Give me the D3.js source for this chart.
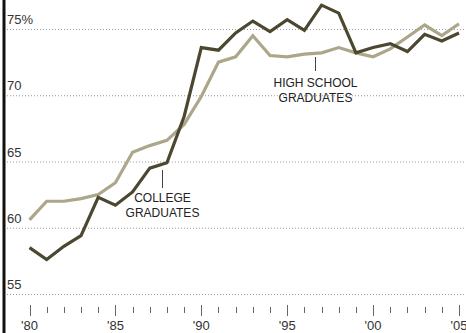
<!DOCTYPE html>
<html>
<head>
<meta charset="utf-8">
<script src="https://cdn.jsdelivr.net/npm/d3@7"></script>
<style>
  body { margin: 0; background: #fff; }
  svg { display: block; font-family: "Liberation Sans", Arial, sans-serif; }
</style>
</head>
<body>
<svg id="chart" width="466" height="333"></svg>
<script>
// years on the x axis
const years = d3.range(1980, 2006);
// college graduates (dark line)
const college = [58.5, 57.6, 58.6, 59.4, 62.3, 61.7, 62.7, 64.5, 64.9, 68.4,
  73.6, 73.4, 74.7, 75.6, 74.8, 75.7, 74.9, 76.8, 76.2, 73.2,
  73.6, 73.9, 73.3, 74.6, 74.1, 74.7];
// high school graduates (light line)
const highSchool = [60.6, 62.0, 62.0, 62.2, 62.5, 63.4, 65.7, 66.2, 66.6, 67.8,
  69.9, 72.5, 72.9, 74.5, 73.0, 72.9, 73.1, 73.2, 73.6, 73.2,
  72.9, 73.5, 74.4, 75.3, 74.5, 75.4];
const yTicks = [55, 60, 65, 70, 75];
const yTickLabels = ["55", "60", "65", "70", "75%"];
const xMajor = [1980, 1985, 1990, 1995, 2000, 2005];
const xLabels = ["'80", "'85", "'90", "'95", "'00", "'05"];

const darkColor = "#4b4730";
const lightColor = "#aca68a";

const svg = d3.select("#chart");
const x = d3.scaleLinear().domain([1980, 2005]).range([29.5, 459]);
const y = d3.scaleLinear().domain([55, 75]).range([294, 29]);

// left rule
svg.append("line")
  .attr("x1", 4).attr("x2", 4).attr("y1", 0).attr("y2", 333)
  .attr("stroke", "#111").attr("stroke-width", 3);

// gridlines + labels
const grid = svg.append("g");
grid.selectAll("line").data(yTicks).enter().append("line")
  .attr("x1", 7).attr("x2", 466)
  .attr("y1", d => y(d) + 0.5).attr("y2", d => y(d) + 0.5)
  .attr("stroke", "#9a9a9a").attr("stroke-width", 1)
  .attr("stroke-dasharray", "1,2");
grid.selectAll("text").data(yTicks).enter().append("text")
  .attr("x", 7).attr("y", d => y(d) - 5)
  .attr("font-size", 13).attr("fill", "#333")
  .text((d, i) => yTickLabels[i]);

// x ticks
const ticks = svg.append("g");
ticks.selectAll("line").data(years).enter().append("line")
  .attr("x1", d => Math.round(x(d)) + 0.5).attr("x2", d => Math.round(x(d)) + 0.5)
  .attr("y1", d => xMajor.includes(d) ? 305 : 307)
  .attr("y2", d => xMajor.includes(d) ? 316 : 313)
  .attr("stroke", "#666").attr("stroke-width", 1);
ticks.selectAll("text").data(xMajor).enter().append("text")
  .attr("x", d => x(d)).attr("y", 330)
  .attr("text-anchor", "middle")
  .attr("font-size", 13).attr("fill", "#333")
  .text((d, i) => xLabels[i]);

// lines
const line = d3.line().x((d, i) => x(years[i])).y(d => y(d));
svg.append("path").datum(highSchool)
  .attr("d", line).attr("fill", "none")
  .attr("stroke", lightColor).attr("stroke-width", 3.2)
  .attr("stroke-linejoin", "miter");
svg.append("path").datum(college)
  .attr("d", line).attr("fill", "none")
  .attr("stroke", darkColor).attr("stroke-width", 3.2)
  .attr("stroke-linejoin", "miter");

// annotations
const notes = [
  { year: 1987.7, lines: ["COLLEGE", "GRADUATES"], top: 170, bottom: 188, text: 202 },
  { year: 1996.6, lines: ["HIGH SCHOOL", "GRADUATES"], top: 57, bottom: 71, text: 87 }
];
notes.forEach(n => {
  const px = Math.round(x(n.year)) + 0.5;
  svg.append("line")
    .attr("x1", px).attr("x2", px)
    .attr("y1", n.top).attr("y2", n.bottom)
    .attr("stroke", "#444").attr("stroke-width", 1);
  svg.append("text")
    .attr("x", px).attr("y", n.text)
    .attr("text-anchor", "middle")
    .attr("font-size", 12).attr("fill", "#222")
    .selectAll("tspan").data(n.lines).enter().append("tspan")
    .attr("x", px).attr("dy", (d, i) => i ? 15 : 0)
    .text(d => d);
});
</script>
</body>
</html>
